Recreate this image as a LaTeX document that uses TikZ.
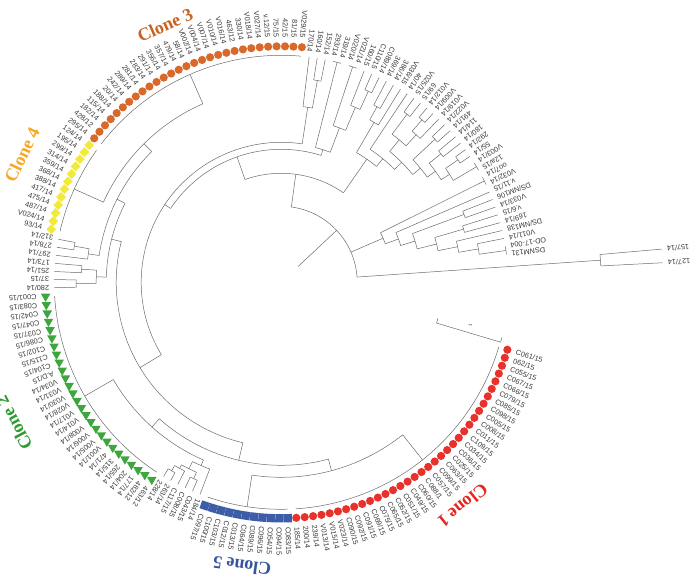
\documentclass[tikz,border=0pt]{standalone}
\usepackage{fontspec}
\setmainfont{Liberation Serif}
\setsansfont{Liberation Sans}
\usetikzlibrary{shapes.geometric}
\definecolor{cred}{HTML}{E8312B}
\definecolor{corange}{HTML}{D8692B}
\definecolor{cyellow}{HTML}{F1EA3A}
\definecolor{cgreen}{HTML}{3DA63D}
\definecolor{cblue}{HTML}{3E5DA8}
\definecolor{tthree}{HTML}{C8621E}
\definecolor{tfour}{HTML}{F4A824}
\definecolor{ttwo}{HTML}{2E9B30}
\definecolor{tfive}{HTML}{3555A0}
\definecolor{tone}{HTML}{E52620}
\newcommand\Lg[1]{(-16.6-((#1)-1)*2.051)}
\newcommand\RD[3]{\draw[br] ({\Lg{#1}}:#2) -- ({\Lg{#1}}:#3);}
\newcommand\AC[3]{\draw[br] ({\Lg{#1}}:#3) arc[start angle={\Lg{#1}}, end angle={\Lg{#2}}, radius=#3];}
% pair of leaves #1,#1+1 joined at radius #3, stem from radius #2
\newcommand\PR[3]{\RD{#1+0.5}{#2}{#3}\AC{#1}{#1+1}{#3}\RD{#1}{#3}{227}\RD{#1+1}{#3}{227}}
\begin{document}
\begin{tikzpicture}[x=1pt,y=1pt,
  br/.style={draw=black!58, line width=0.5pt},
  lbl/.style={font=\sffamily\fontsize{7.3}{8}\selectfont, text=black!78, inner sep=0pt},
  clab/.style={font=\rmfamily\bfseries\fontsize{18}{20}\selectfont, inner sep=0pt},
  sqm/.style={rectangle, fill=cblue, minimum size=8.3pt, inner sep=0pt},
  trim/.style={regular polygon, regular polygon sides=3, shape border rotate=180, fill=cgreen, minimum size=11pt, inner sep=0pt},
  dim/.style={diamond, fill=cyellow, minimum size=10pt, inner sep=0pt}]
\useasboundingbox (-281.2,-301.7) rectangle (418.8,282.3);

% ---------------- tree ----------------
% root
\RD{147.4}{23}{76}
\AC{128.3}{166.5}{76}
% long pair
\RD{166.5}{76}{320} \AC{166}{167}{320} \RD{166}{320}{382} \RD{167}{320}{382}
% D clade
\RD{157.02}{76}{111} \AC{155.5}{158.55}{111}
\RD{155.5}{111}{227} \AC{155}{156}{227}
\RD{158.55}{111}{125} \AC{157}{160.09}{125}
\RD{157}{125}{227}
\RD{160.09}{125}{140} \AC{158.5}{161.6875}{140}
\PR{158}{140}{195}
\RD{161.6875}{140}{160} \AC{160.5}{162.875}{160}
\PR{160}{160}{190}
\RD{162.875}{160}{180} \AC{162}{163.75}{180} \RD{162}{180}{227}
\RD{163.75}{180}{200} \AC{163}{164.5}{200} \RD{163}{200}{227}
\RD{164.5}{200}{227} \AC{164}{165}{227}
% A
\RD{128.3}{76}{109} \AC{115.09}{141.52}{109}
\RD{115.09}{109}{133} \AC{97.115}{133.06}{133}
% A2a
\RD{133.06}{133}{139} \AC{131.5}{134.625}{139}
\RD{131.5}{139}{227} \AC{131}{132}{227}
\RD{134.625}{139}{165} \AC{133.5}{135.75}{165}
\RD{133.5}{165}{227} \AC{133}{134}{227}
\RD{135.75}{165}{190} \AC{135}{136.5}{190} \RD{135}{190}{227}
\PR{136}{190}{210}
% A1
\RD{141.52}{109}{150} \AC{139.25}{143.78}{150}
\RD{139.25}{150}{185} \AC{138.5}{140}{185} \RD{140}{185}{227}
\PR{138}{185}{200}
\RD{143.78}{150}{160} \AC{141}{146.5625}{160} \RD{141}{160}{227}
\RD{146.5625}{160}{170} \AC{143.875}{149.25}{170}
\RD{143.875}{170}{185} \AC{142.5}{145.25}{185}
\PR{142}{185}{210}
\RD{145.25}{185}{200} \AC{144.5}{146}{200} \RD{146}{200}{227}
\PR{144}{200}{215}
\RD{149.25}{170}{180} \AC{147.5}{151}{180}
\PR{147}{180}{210}
\RD{151}{180}{190} \AC{149.5}{152.5}{190}
\PR{149}{190}{205}
\RD{152.5}{190}{200} \AC{151.5}{153.5}{200}
\PR{151}{200}{215}
\RD{153.5}{200}{227} \AC{153}{154}{227}
% A2b
\RD{97.115}{133}{140} \AC{65.48}{128.75}{140}
% X81
\RD{128.75}{140}{177} \AC{128}{129.5}{177} \RD{128}{177}{227}
\PR{129}{177}{205}
% Y
\RD{65.48}{140}{165} \AC{43.33}{87.625}{165}
% L2
\RD{87.625}{165}{175} \AC{81.5}{93.75}{175}
\RD{81.5}{175}{185} \AC{80.5}{82.5}{185}
\PR{80}{185}{205}
\PR{82}{185}{200}
% L1
\RD{93.75}{175}{184} \AC{84.75}{102.75}{184}
\RD{84.75}{184}{195} \AC{84}{85.5}{195} \RD{84}{195}{227}
\PR{85}{195}{210}
\RD{102.75}{184}{195} \AC{92.5}{113}{195}
\RD{92.5}{195}{227} \AC{87}{98}{227}
\RD{113}{195}{227} \AC{99}{127}{227}
% Y1
\RD{43.33}{165}{183} \AC{29.5}{57.155}{183}
\RD{29.5}{183}{195} \AC{18}{41}{195}
\RD{18}{195}{227} \AC{1}{35}{227}
\RD{41}{195}{227} \AC{36}{46}{227}
% M
\RD{57.155}{183}{194} \AC{48.31}{66}{194}
\RD{66}{194}{227} \AC{53}{79}{227}
\RD{48.31}{194}{200} \AC{47}{49.625}{200} \RD{47}{200}{227}
\RD{49.625}{200}{208} \AC{48.5}{50.75}{208}
\PR{48}{208}{215}
\RD{50.75}{208}{212} \AC{50}{51.5}{212} \RD{50}{212}{227}
\PR{51}{212}{218}

% ---------------- markers ----------------
\foreach \i in {1,...,35} {\pgfmathsetmacro\a{-16.6-(\i-1)*2.051}
  \fill[cred] (\a:236) circle (4.1);}
\foreach \i in {36,...,46} {\pgfmathsetmacro\a{-16.6-(\i-1)*2.051}
  \node[sqm, rotate=\a] (m\i) at (\a:236) {};}
\foreach \i in {53,...,79} {\pgfmathsetmacro\a{-16.6-(\i-1)*2.051}
  \node[trim] (m\i) at (\a:236) {};}
\foreach \i in {87,...,98} {\pgfmathsetmacro\a{-16.6-(\i-1)*2.051}
  \node[dim] (m\i) at (\a:236) {};}
\foreach \i in {99,...,127} {\pgfmathsetmacro\a{-16.6-(\i-1)*2.051}
  \fill[corange] (\a:236) circle (4.1);}

% ---------------- labels ----------------
\foreach \t [count=\i] in {C061/15,062/15,C055/15,C067/15,C066/15,C079/15,C085/15,C098/15,C005/15,C008/15,C011/15,C109/15,C034/15,C036/15,C025/15,C063/15,C099/15,C057/15,C088/1,C060/15,C049/15,C051/15,C052/15,C065/15,C075/15,C069/15,C091/15,C092/15,C090/15,V023/14,V015/14,V013/14,239/14,200/14,185/14,C083/15,C094/15,C054/15,C096/15,C089/15,C064/15,C013/15,C012/15,C103/15,C100/15,C097/15}
  {\pgfmathsetmacro\a{-16.6-(\i-1)*2.051}
   \node[lbl, rotate=\a, anchor=west] (l\i) at (\a:245) {\t};}
\foreach \t [count=\i from 47] in {184/14,C043/15,C008/15,C117/15,263/14,228/14}
  {\pgfmathsetmacro\a{-16.6-(\i-1)*2.051}
   \node[lbl, rotate=\a, anchor=west] (l\i) at (\a:232) {\t};}
\foreach \t [count=\i from 53] in {463/12,482/12,177/14,204/14,265/14,315/14,471/14,V001/14,V005/14,V006/14,V008/14,V014/14,V017/14,V028/14,V030/14,V031/14,V034/14,A.D/15,C104/15,C115/15,C102/15,C086/15,C037/15,C047/15,C042/15,C083/15,C001/15}
  {\pgfmathsetmacro\a{-16.6-(\i-1)*2.051}
   \node[lbl, rotate=\a, anchor=west] (l\i) at (\a:245) {\t};}
\foreach \t [count=\i from 80] in {280/14,37/15,251/14,173/14,297/14,278/14,312/14}
  {\pgfmathsetmacro\a{-16.6-(\i-1)*2.051}
   \node[lbl, rotate=\a, anchor=west] (l\i) at (\a:232) {\t};}
\foreach \t [count=\i from 87] in {93/14,V024/14,487/14,475/14,417/14,388/14,368/14,359/14,314/14,299/14,195/14,124/14,295/14,428/12,182/14,115/14,188/14,20/14,242/14,289/14,281/14,283/14,291/14,356/14,357/14,479/14,58/14,V002/14,V004/14,V007/14,V010/14,V016/14,463/12,330/14,V018/14,V027/14,v.12/15,75/15,42/15,81/15,V029/15}
  {\pgfmathsetmacro\a{-16.6-(\i-1)*2.051}\pgfmathsetmacro\b{\a+180}
   \node[lbl, rotate=\b, anchor=east] (l\i) at (\a:245) {\t};}
\foreach \t [count=\i from 128] in {170/14,160/14,152/14,293/14,319/14,V020/14,V021/14,160/15,C110/15,C089/14,369/14,386/14,V036/15,40/14,V025/15,69/15,V012/14,V009/14,V019/14,V022/14,491/14,114/14,180/14,292/14,55/14,V003/14,12a/15,oo7/14,V032/14,v.11/15,DS/NM106,V033/14,v.6/15,169/14,DS/NM138,V011/14,OD-17-004,DSNM131}
  {\pgfmathsetmacro\a{-16.6-(\i-1)*2.051}\pgfmathsetmacro\b{\a+180}
   \node[lbl, rotate=\b, anchor=east] (l\i) at (\a:232) {\t};}
\foreach \t [count=\i from 166] in {157/14,127/14}
  {\pgfmathsetmacro\a{-16.6-(\i-1)*2.051}\pgfmathsetmacro\b{\a+180}
   \node[lbl, rotate=\b, anchor=east] (l\i) at (\a:387) {\t};}

% ---------------- clone titles ----------------
\node[clab, text=tthree, rotate=24] (c3) at (-116.2,257.3) {Clone 3};
\node[clab, text=tfour, rotate=64] (c4) at (-259.2,127.3) {Clone 4};
\node[clab, text=ttwo, rotate=118] (c2) at (-267.2,-140.7) {Clone 2};
\node[clab, text=tfive, rotate=172] (c5) at (-39.2,-283.7) {Clone 5};
\node[clab, text=tone, rotate=219] (c1) at (181.8,-223.7) {Clone 1};

% ---------------- scale bar ----------------
\begin{scope}[shift={(156.8,-36)}, rotate=-16.6]
  \coordinate (sb0) at (0,0);
  \coordinate (sb1) at (0,-5);
  \coordinate (sb2) at (66.8,-5);
  \coordinate (sb3) at (66.8,0);
  \draw[br] (sb0) -- (sb1) -- (sb2) -- (sb3);
  \node[font=\sffamily\fontsize{4}{4}\selectfont, rotate=90, inner sep=0pt] (sbl) at (33,2) {1};
\end{scope}
\end{tikzpicture}
\end{document}
